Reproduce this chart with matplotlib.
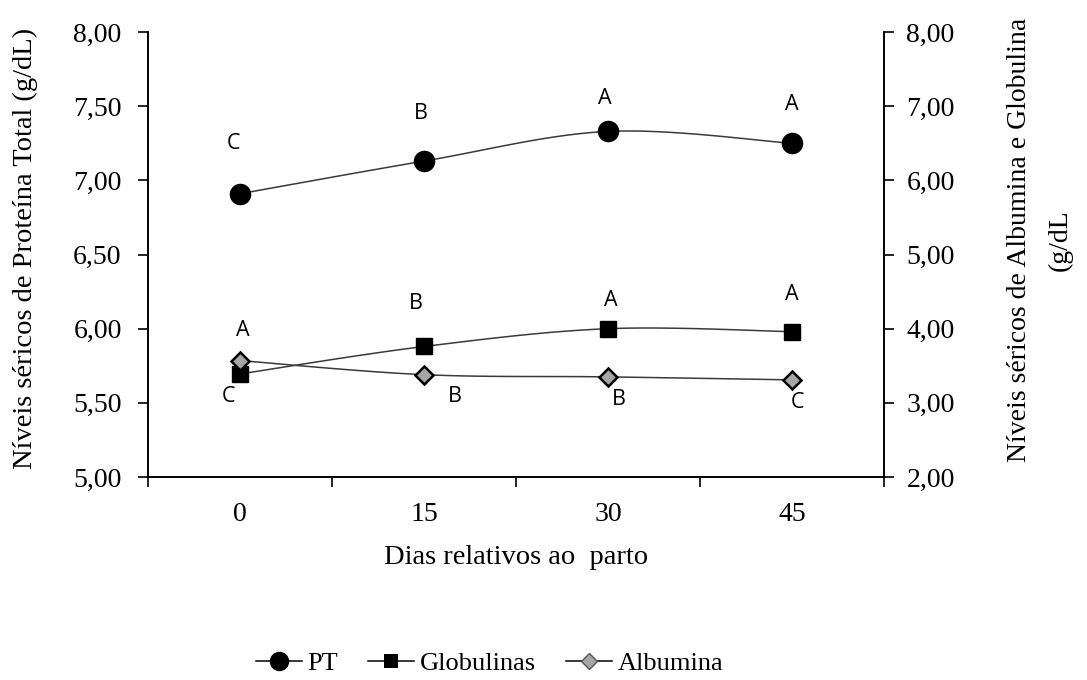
import numpy as np
import matplotlib.pyplot as plt
from matplotlib.lines import Line2D

# dados: dias relativos ao parto
dias = ['0', '15', '30', '45']
pt = [6.91, 7.13, 7.33, 7.25]
globulinas = [3.39, 3.76, 4.00, 3.96]
albumina = [3.57, 3.38, 3.35, 3.31]

letras_pt = ['C', 'B', 'A', 'A']
letras_glob = ['C', 'B', 'A', 'A']
letras_alb = ['A', 'B', 'B', 'C']

serif = 'Liberation Serif'
sans = 'Open Sans'
fs = 20


def suaviza(x, y, n=30):
    # curva Catmull-Rom passando pelos pontos (linha suavizada)
    x = np.asarray(x, float)
    y = np.asarray(y, float)
    px = np.concatenate([[x[0]], x, [x[-1]]])
    py = np.concatenate([[y[0]], y, [y[-1]]])
    xs, ys = [], []
    t = np.linspace(0, 1, n)
    for i in range(1, len(px) - 2):
        for p, out in ((px, xs), (py, ys)):
            p0, p1, p2, p3 = p[i - 1], p[i], p[i + 1], p[i + 2]
            out.extend(0.5 * ((2 * p1) + (-p0 + p2) * t
                              + (2 * p0 - 5 * p1 + 4 * p2 - p3) * t ** 2
                              + (-p0 + 3 * p1 - 3 * p2 + p3) * t ** 3))
    return xs, ys


fig = plt.figure(figsize=(10.87, 6.8), dpi=100)
ax = fig.add_axes([0.1362, 0.2985, 0.6771, 0.6544])
ax2 = ax.twinx()

x = np.arange(len(dias))

# PT no eixo esquerdo
sx, sy = suaviza(x, pt)
ax.plot(sx, sy, color='#3a3a3a', lw=1.1, zorder=2)
ax.plot(x, pt, 'o', ms=14.5, color='black', zorder=3)

# globulinas e albumina no eixo direito
sx, sy = suaviza(x, globulinas)
ax2.plot(sx, sy, color='#3a3a3a', lw=1.1, zorder=2)
ax2.plot(x, globulinas, 's', ms=12, color='black', zorder=3)
sx, sy = suaviza(x, albumina)
ax2.plot(sx, sy, color='#3a3a3a', lw=1.1, zorder=2)
ax2.plot(x, albumina, 'D', ms=9.5, mfc='#a6a6a6', mec='black', mew=1.8, zorder=4)

# letras de significancia
off_pt = [(-5, 36), (-2, 34), (-2, 24), (0, 28)]
off_glob = [(-8, -16), (-6, 31), (2, 20), (0, 27)]
off_alb = [(2, 22), (22, -16), (8, -16), (4, -16)]
for i in range(len(dias)):
    ax.annotate(letras_pt[i], (x[i], pt[i]), xytext=off_pt[i], textcoords='offset points',
                ha='center', va='center', fontsize=15.5, family=sans)
    ax2.annotate(letras_glob[i], (x[i], globulinas[i]), xytext=off_glob[i], textcoords='offset points',
                 ha='center', va='center', fontsize=15.5, family=sans)
    ax2.annotate(letras_alb[i], (x[i], albumina[i]), xytext=off_alb[i], textcoords='offset points',
                 ha='center', va='center', fontsize=15.5, family=sans)

ax.set_xlim(-0.5, 3.5)
ax.set_ylim(5, 8)
ax2.set_ylim(2, 8)
ax.set_yticks(np.arange(5, 8.01, 0.5))
ax2.set_yticks(np.arange(2, 8.01, 1))
ax.set_yticklabels([f'{v:.2f}'.replace('.', ',') for v in np.arange(5, 8.01, 0.5)])
ax2.set_yticklabels([f'{v:.2f}'.replace('.', ',') for v in np.arange(2, 8.01, 1)])

# ticks do eixo x entre as categorias
ax.set_xticks(np.arange(-0.5, 3.6, 1))
ax.set_xticklabels([])
ax.set_xticks(x, minor=True)
ax.set_xticklabels(dias, minor=True)
ax.tick_params(axis='x', which='minor', length=0, pad=18, labelsize=fs)
ax.tick_params(axis='x', which='major', length=7, width=1.2, direction='out')

for a in (ax, ax2):
    a.spines['top'].set_visible(False)
    for s in a.spines.values():
        s.set_linewidth(1.2)
    a.tick_params(axis='y', length=7, width=1.2, direction='out', labelsize=fs)
    for lab in a.get_yticklabels() + a.get_xticklabels(minor=True):
        lab.set_family(serif)
ax.tick_params(axis='y', pad=12)
ax2.tick_params(axis='y', pad=9)

ax.set_xlabel('Dias relativos ao  parto', fontsize=20.5, family=serif, labelpad=13)

# titulos dos eixos y
fig.text(25 / 1087, 1 - 248 / 680, 'Níveis séricos de Proteína Total (g/dL)', fontsize=20.5,
         family=serif, rotation=90, ha='center', va='center')
fig.text(1040 / 1087, 1 - 240 / 680, 'Níveis séricos de Albumina e Globulina\n(g/dL', fontsize=20,
         family=serif, rotation=90, ha='center', va='center', multialignment='center',
         linespacing=1.85)

handles = [
    Line2D([], [], color='black', lw=1.1, marker='o', ms=14, mew=0),
    Line2D([], [], color='black', lw=1.1, marker='s', ms=9.5, mew=0),
    Line2D([], [], color='black', lw=1.1, marker='D', ms=8, mfc='#a6a6a6', mec='#555555'),
]
fig.legend(handles, ['PT', 'Globulinas', 'Albumina'], loc='center', bbox_to_anchor=(0.4503, 0.025),
           ncol=3, frameon=False, handlelength=1.75, handletextpad=0.2, columnspacing=1.15,
           prop={'family': serif, 'size': 19})

fig.savefig('out.png', dpi=100)
